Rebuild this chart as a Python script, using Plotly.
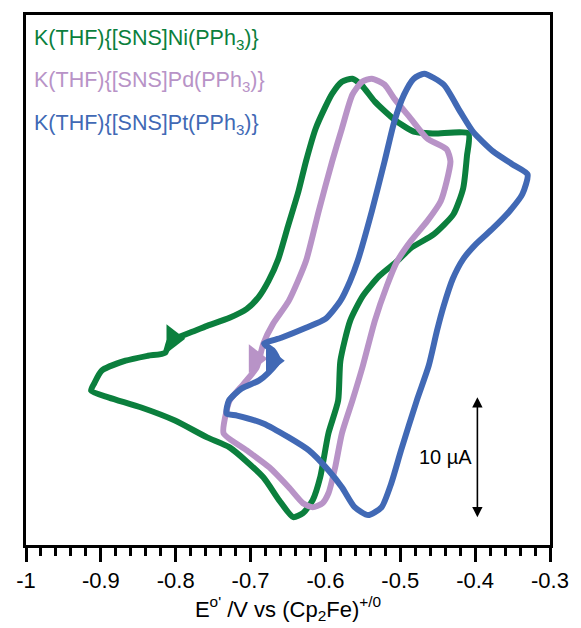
import plotly.graph_objects as go

# Cyclic voltammograms, potential (V vs Fc+/0) and current (uA)
ni_E = [-0.808, -0.795, -0.778, -0.758, -0.728, -0.705, -0.689, -0.676, -0.663, -0.650,
        -0.636, -0.626, -0.613, -0.600, -0.591, -0.578, -0.564, -0.551, -0.534, -0.508,
        -0.482, -0.455, -0.409, -0.411, -0.416, -0.429, -0.455, -0.486, -0.504, -0.528,
        -0.550, -0.567, -0.580, -0.583, -0.596, -0.607, -0.617, -0.630, -0.643, -0.662,
        -0.683, -0.728, -0.758, -0.801, -0.846, -0.889, -0.913, -0.909, -0.899, -0.867,
        -0.837, -0.814, -0.808]
ni_I = [-3.28, -2.95, -2.54, -2.05, -1.39, -0.66, 0.33, 1.64, 3.44, 6.15,
        9.02, 11.48, 14.18, 15.98, 17.05, 18.03, 18.28, 17.70, 16.39, 14.92,
        13.93, 13.77, 13.77, 11.89, 9.26, 7.13, 5.49, 4.34, 3.28, 2.05,
        0.41, -1.64, -4.92, -8.20, -10.90, -14.51, -16.39, -17.46, -17.79, -16.39,
        -14.51, -12.05, -11.23, -9.84, -8.77, -7.95, -7.38, -6.80, -5.74, -4.92,
        -4.51, -4.26, -3.28]

pd_E = [-0.692, -0.683, -0.670, -0.649, -0.626, -0.609, -0.591, -0.578, -0.564, -0.551,
        -0.538, -0.521, -0.508, -0.486, -0.464, -0.438, -0.433, -0.438, -0.446, -0.464,
        -0.486, -0.504, -0.518, -0.534, -0.550, -0.564, -0.578, -0.587, -0.596, -0.604,
        -0.617, -0.630, -0.649, -0.675, -0.705, -0.736, -0.732, -0.728, -0.709, -0.692]
pd_I = [-5.49, -3.52, -1.89, 0.00, 3.28, 7.38, 11.48, 14.18, 16.97, 18.03,
        18.28, 17.79, 16.64, 15.00, 13.36, 12.46, 11.48, 9.84, 8.20, 6.56,
        4.92, 3.28, 1.23, -1.64, -5.33, -8.20, -10.90, -13.69, -15.82, -16.64,
        -16.97, -16.64, -15.33, -13.69, -12.30, -10.90, -9.02, -8.20, -6.80, -5.49]

pt_E = [-0.663, -0.670, -0.682, -0.659, -0.626, -0.600, -0.580, -0.567, -0.557, -0.538,
        -0.521, -0.508, -0.495, -0.482, -0.468, -0.442, -0.420, -0.403, -0.376, -0.350,
        -0.330, -0.337, -0.354, -0.376, -0.399, -0.416, -0.430, -0.442, -0.451, -0.462,
        -0.478, -0.499, -0.512, -0.525, -0.543, -0.561, -0.578, -0.596, -0.622, -0.649,
        -0.683, -0.718, -0.732, -0.729, -0.712, -0.689, -0.676, -0.663]
pt_I = [-4.92, -4.10, -3.52, -3.03, -2.21, -1.48, 0.00, 1.64, 3.28, 7.38,
        11.48, 14.75, 16.97, 18.28, 18.69, 17.79, 15.57, 13.93, 12.30, 11.23,
        10.41, 8.77, 7.38, 5.98, 4.67, 3.44, 1.80, -0.41, -2.46, -5.33,
        -8.20, -12.30, -15.00, -16.97, -17.62, -16.97, -15.33, -13.93, -12.30, -11.23,
        -10.08, -9.43, -9.26, -8.20, -7.21, -6.56, -5.90, -4.92]

# Scan-direction markers (start of each sweep)
start_E = [-0.804, -0.694, -0.671]
start_I = [-3.11, -4.75, -4.92]

names = ["K(THF){[SNS]Ni(PPh<sub>3</sub>)}",
         "K(THF){[SNS]Pd(PPh<sub>3</sub>)}",
         "K(THF){[SNS]Pt(PPh<sub>3</sub>)}"]
colors = ["#0b7f3d", "#b893c7", "#4169b5"]

x_ticks = [-1, -0.9, -0.8, -0.7, -0.6, -0.5, -0.4, -0.3]
x_tick_text = ["-1", "-0.9", "-0.8", "-0.7", "-0.6", "-0.5", "-0.4", "-0.3"]

# 10 uA scale bar
bar_E = -0.397
bar_top = -7.8
bar_len = 10

FONT = "Liberation Sans, Arial, Helvetica, sans-serif"

fig = go.Figure()
for E, I, c in [(ni_E, ni_I, colors[0]), (pd_E, pd_I, colors[1]), (pt_E, pt_I, colors[2])]:
    fig.add_trace(go.Scatter(x=E, y=I, mode="lines",
                             line=dict(color=c, width=6, shape="spline", smoothing=0.6),
                             showlegend=False, hoverinfo="skip"))

for E, I, c in zip(start_E, start_I, colors):
    fig.add_trace(go.Scatter(x=[E], y=[I], mode="markers",
                             marker=dict(symbol="triangle-right", size=25, color=c,
                                         line=dict(width=0)),
                             showlegend=False, hoverinfo="skip"))

# Compound labels
label_y = [0.953, 0.874, 0.793]
for name, c, yp in zip(names, colors, label_y):
    fig.add_annotation(x=0.011, y=yp, xref="paper", yref="paper", text=name,
                       showarrow=False, xanchor="left", yanchor="middle",
                       font=dict(family=FONT, size=21.5, color=c))

# Scale bar
fig.add_annotation(x=bar_E, y=bar_top - bar_len, ax=bar_E, ay=bar_top,
                   xref="x", yref="y", axref="x", ayref="y", text="",
                   showarrow=True, arrowside="end+start", arrowhead=2,
                   arrowsize=1.3, arrowwidth=1.6, arrowcolor="black", standoff=0,
                   startstandoff=0)
fig.add_annotation(x=bar_E - 0.004, y=bar_top - bar_len / 2, xref="x", yref="y",
                   text="10 \u00b5A", showarrow=False, xanchor="right", yanchor="middle",
                   font=dict(family=FONT, size=20, color="black"))

fig.update_layout(
    width=581, height=628,
    margin=dict(l=26, r=23, t=13, b=83),
    paper_bgcolor="white", plot_bgcolor="white",
    font=dict(family=FONT, size=22, color="black"),
)
fig.update_xaxes(range=[-1, -0.3], tickvals=x_ticks, ticktext=x_tick_text,
                 ticks="outside", ticklen=14, tickwidth=2.5, tickcolor="black",
                 minor=dict(dtick=0.02, ticks="outside", ticklen=8, tickwidth=2.5,
                            tickcolor="black", showgrid=False),
                 showline=True, linewidth=3, linecolor="black", mirror=True,
                 showgrid=False, zeroline=False,
                 tickfont=dict(family=FONT, size=22),
                 title=dict(text="E<sup>o'</sup> /V vs (Cp<sub>2</sub>Fe)<sup>+/0</sup>",
                            font=dict(family=FONT, size=22), standoff=2))
fig.update_yaxes(range=[-20.08, 23.52], showticklabels=False, ticks="",
                 showline=True, linewidth=3, linecolor="black", mirror=True,
                 showgrid=False, zeroline=False)

fig.write_html("out.html")
